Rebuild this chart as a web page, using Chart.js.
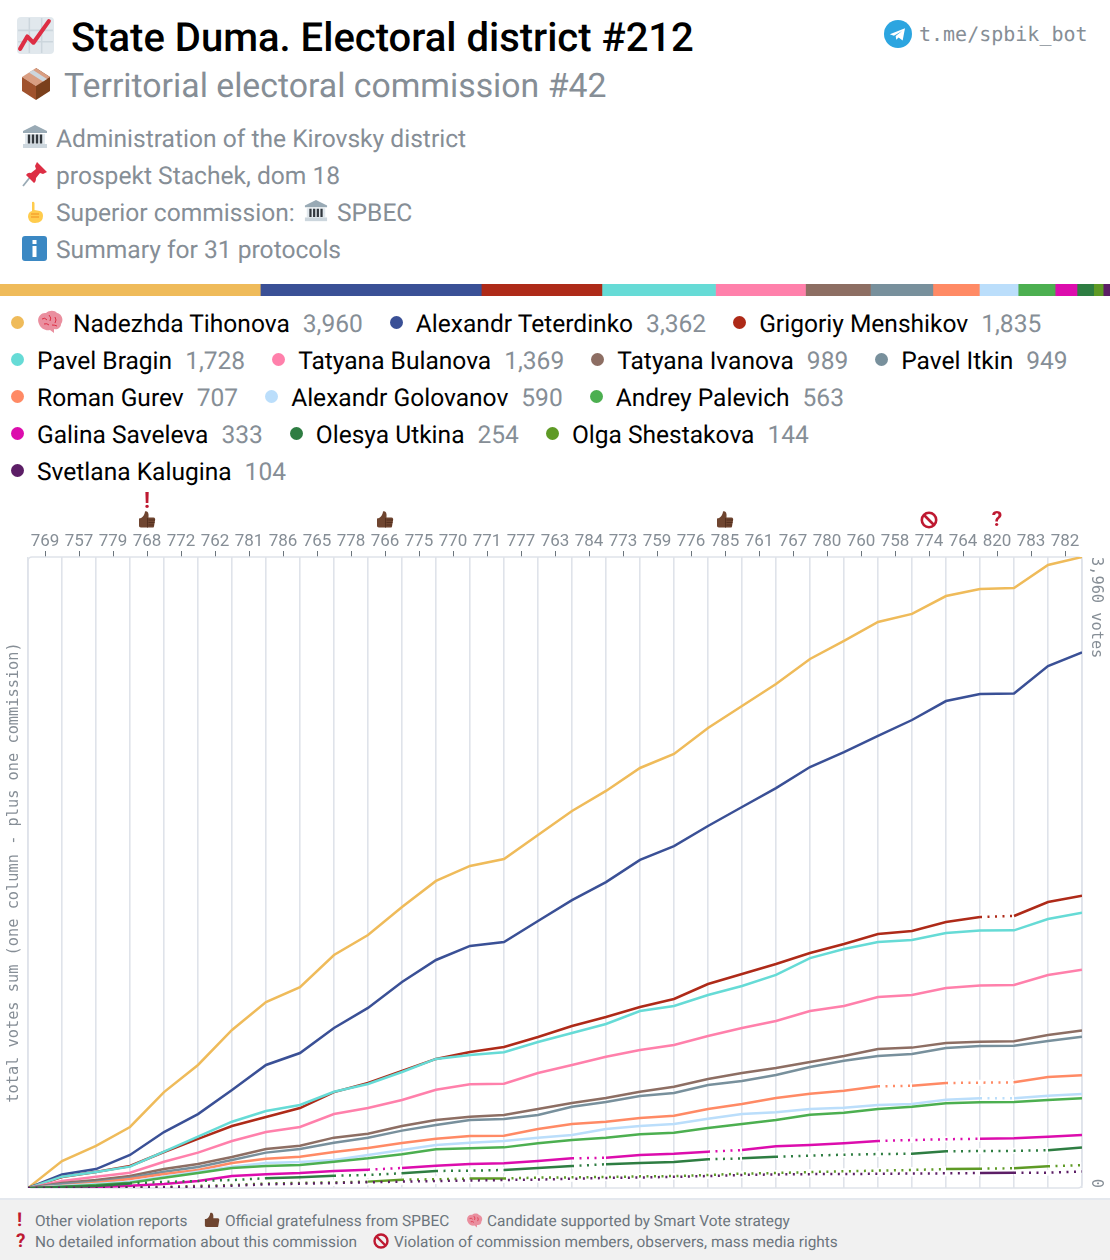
<!DOCTYPE html>
<html><head><meta charset="utf-8">
<script src="https://cdn.jsdelivr.net/npm/chart.js@4"></script>
<style>
html,body{margin:0;padding:0;background:#fff}
body{width:1110px;height:1260px;position:relative;overflow:hidden;font-family:Roboto,sans-serif;color:#000;text-rendering:geometricPrecision}
.abs{position:absolute;white-space:nowrap}
.ic{position:absolute;display:block}
#title{left:71px;top:15px;font-size:40px;line-height:46px;font-weight:500}
#sub{left:64px;top:67px;font-size:33.8px;line-height:40px;color:#868e96}
.info{left:56px;font-size:24.6px;line-height:30px;color:#868e96}
#tg{left:919px;top:22px;font-family:"DejaVu Sans Mono",monospace;font-size:20px;line-height:24px;color:#868e96}
#legend{position:absolute;left:11px;top:304.5px;width:1087px;display:flex;flex-wrap:wrap;font-size:24.55px;line-height:37px}
.li{display:flex;align-items:center;margin-right:27px;white-space:nowrap}
.dot{width:13px;height:13px;border-radius:50%;margin-right:13px;position:relative;top:-1px;flex:none}
.val{color:#868e96;margin-left:13px}
#bar{position:absolute;left:0;top:284px}
#plot{position:absolute;left:0;top:490px}
#foot{position:absolute;left:0;top:1198px;width:1110px;height:62px;background:#f1f1f1;border-top:2px solid #e4e8ee;box-sizing:border-box}
.ft{position:absolute;font-size:15.4px;line-height:20px;color:#6c757d;white-space:nowrap}
.red{color:#be1931;font-weight:700;font-size:19px}
</style></head><body>

<svg class="ic" style="left:17px;top:17px" width="37" height="37" viewBox="0 0 36 36"><rect width="36" height="36" rx="4" fill="#e1e8ed"/><path d="M1 13h34M1 24h34M12 1v34M24 1v34" stroke="#ccd6dd" stroke-width="1.5" fill="none"/><path d="M3 31 L10 19 L16 25 L31 4" stroke="#dd2e44" stroke-width="4" fill="none" stroke-linecap="round" stroke-linejoin="round"/></svg>
<div class="abs" id="title">State Duma. Electoral district #212</div>

<svg class="ic" style="left:21px;top:67px" width="30" height="34" viewBox="0 0 30 34"><path d="M15 1 L29 10 V24 L15 33 Z" fill="#7a3f1c"/><path d="M15 1 L29 10 L15 19 L1 10 Z" fill="#d99e82"/><path d="M8 5.5 L22 14.5 L26 12 L12 3 Z" fill="#ccd6dd"/><path d="M15 19 V33 L1 24 V10 Z" fill="#a0522d"/></svg>
<div class="abs" id="sub">Territorial electoral commission #42</div>

<svg class="ic" style="left:22px;top:125px" width="26" height="24" viewBox="0 0 26 24"><path d="M13 0 L25 6 V8 H1 V6 Z" fill="#99aab5"/><rect x="3" y="9" width="20" height="10" fill="#e1e8ed"/><path d="M7 9.5v9M11 9.5v9M15 9.5v9M19 9.5v9" stroke="#31373d" stroke-width="2.4"/><rect y="19" x="1" width="24" height="4" fill="#ccd6dd"/></svg>
<div class="abs info" style="top:125px">Administration of the Kirovsky district</div>

<svg class="ic" style="left:22px;top:161px" width="26" height="26" viewBox="0 0 26 26"><path d="M1 25 L9 15" stroke="#99aab5" stroke-width="1.8"/><path d="M15 1 L25 11 L21 13 L18 12 L14 17 Q14 21 12 22 L4 14 Q6 11 9 12 L14 8 L13 5 Z" fill="#dd2e44"/></svg>
<div class="abs info" style="top:162px">prospekt Stachek, dom 18</div>

<svg class="ic" style="left:24px;top:201px" width="22" height="23" viewBox="0 0 22 23"><path d="M8 1 Q10 0 10.500 2 L10.500 9 L16 10 Q19 11 19 15 Q19 22 11 22 Q5 22 4 16 Q4 11 8 10 Z" fill="#ffcc4d"/><path d="M7 13h8M7 16h8" stroke="#f19020" stroke-width="1"/></svg>
<div class="abs info" style="top:199px">Superior commission: <span style="display:inline-block;width:30px"></span> SPBEC</div>
<svg class="ic" style="left:304px;top:199px" width="24" height="24" viewBox="0 0 26 24"><path d="M13 0 L25 6 V8 H1 V6 Z" fill="#99aab5"/><rect x="3" y="9" width="20" height="10" fill="#e1e8ed"/><path d="M7 9.5v9M11 9.5v9M15 9.5v9M19 9.5v9" stroke="#31373d" stroke-width="2.4"/><rect y="19" x="1" width="24" height="4" fill="#ccd6dd"/></svg>

<svg class="ic" style="left:22px;top:236px" width="25" height="25" viewBox="0 0 25 25"><rect width="25" height="25" rx="3" fill="#3b88c3"/><rect x="10.500" y="10" width="4" height="11" fill="#fff"/><rect x="10.500" y="4" width="4" height="4" fill="#fff"/></svg>
<div class="abs info" style="top:236px">Summary for 31 protocols</div>

<svg class="ic" style="left:884px;top:20px" width="28" height="28" viewBox="0 0 24 24"><circle cx="12" cy="12" r="12" fill="#2ca5e0"/><path d="M5 12.200 L18 7 L16 17.500 L12.500 15 L10.500 17 L10 13.800 L15.500 9.500 L8.500 13.500 Z" fill="#fff"/></svg>
<div class="abs" id="tg">t.me/spbik_bot</div>

<canvas id="bar" width="1110" height="12"></canvas>
<div id="legend"></div>
<canvas id="plot" width="1110" height="708"></canvas>

<div id="foot"></div>
<div class="ft red" style="left:17px;top:1210px">!</div>
<div class="ft" style="left:35px;top:1211px">Other violation reports</div>
<svg class="ic" style="left:204px;top:1212px" width="16" height="16" viewBox="0 0 36 36"><path id="thumbPath" d="M2 16 C8 16 13 10 14 2 C19 0 22 4 21 14 H31 C34 14 35 17 34 20 L32 32 C32 34 30 34 28 34 H6 C3 34 2 32 2 30 Z" fill="#6f4530"/></svg>
<div class="ft" style="left:225px;top:1211px">Official gratefulness from SPBEC</div>
<svg class="ic" style="left:466px;top:1213px" width="17" height="15" viewBox="0 0 26 24"><path d="M2 14 C-1 8 4 2 9 3 C12 0 18 0 20 3 C25 4 27 10 24 14 C24 18 20 20 17 19 L17 23 L13 20 C9 21 4 19 2 14 Z" fill="#ea8f9f"/><path d="M5 9 Q8 7 10 10 M12 5 Q15 8 13 11 M18 7 Q20 10 18 13 M7 14 Q10 13 12 15" stroke="#dd2e44" stroke-width="1.200" fill="none"/></svg>
<div class="ft" style="left:487px;top:1211px">Candidate supported by Smart Vote strategy</div>
<div class="ft red" style="left:16px;top:1231px">?</div>
<div class="ft" style="left:35px;top:1232px">No detailed information about this commission</div>
<svg class="ic" style="left:373px;top:1233px" width="16" height="16" viewBox="0 0 16 16"><circle cx="8" cy="8" r="6.500" fill="none" stroke="#be1931" stroke-width="2.400"/><path d="M3.500 3.500 L12.500 12.500" stroke="#be1931" stroke-width="2.400"/></svg>
<div class="ft" style="left:394px;top:1232px">Violation of commission members, observers, mass media rights</div>

<script>
// ---- Data ----
const commissions = ['769','757','779','768','772','762','781','786','765','778','766','775','770','771','777','763','784','773','759','776','785','761','767','780','760','758','774','764','820','783','782'];
const candidates = ['Nadezhda Tihonova','Alexandr Teterdinko','Grigoriy Menshikov','Pavel Bragin','Tatyana Bulanova','Tatyana Ivanova','Pavel Itkin','Roman Gurev','Alexandr Golovanov','Andrey Palevich','Galina Saveleva','Olesya Utkina','Olga Shestakova','Svetlana Kalugina'];
const totals = [3960,3362,1835,1728,1369,989,949,707,590,563,333,254,144,104];
const colors = ['#efbb5a','#3a5096','#ae2a18','#66dbd6','#ff80ab','#8d6e63','#78909c','#ff8a65','#bbdefb','#4caf50','#dc0dad','#2e7d42','#5e9a25','#5c1e66'];

const tihonova = [0,169,264,383,602,772,992,1167,1261,1462,1588,1764,1927,2021,2065,2215,2366,2492,2636,2724,2887,3025,3163,3320,3433,3552,3603,3715,3759,3766,3910,3960];
const teterdinko = [0,85,119,207,351,464,615,772,847,1004,1130,1293,1431,1519,1544,1676,1807,1920,2059,2146,2272,2391,2510,2642,2736,2837,2937,3056,3100,3103,3276,3362];
const menshikov = [0,69,100,138,226,308,389,446,502,602,659,734,810,854,885,948,1017,1073,1136,1186,1280,1343,1406,1475,1531,1594,1613,1669,1701,1707,1795,1835];
const bragin = [0,71,100,134,228,322,416,483,521,604,653,728,810,835,852,916,973,1029,1111,1142,1211,1268,1337,1443,1500,1544,1556,1600,1616,1617,1688,1728];
const bulanova = [0,44,71,96,165,222,295,351,383,464,502,552,617,651,655,722,772,824,866,897,954,1004,1048,1111,1142,1199,1211,1255,1271,1274,1337,1369];
const ivanova = [0,31,50,75,119,151,195,245,265,316,341,389,427,447,458,496,533,565,604,636,684,722,753,791,828,872,881,910,918,921,960,989];
const itkin = [0,25,40,65,102,132,176,222,245,284,316,360,395,427,433,458,510,540,577,596,646,672,709,759,799,828,841,879,891,893,923,949];
const gurev = [0,14,33,56,88,113,157,184,196,226,251,282,309,326,328,370,402,416,439,454,496,527,565,592,611,638,642,659,661,663,697,707];
const golovanov = [0,13,25,40,71,102,134,157,163,176,207,238,270,284,295,316,333,370,389,402,435,464,475,496,504,521,527,554,563,564,579,590];
const palevich = [0,8,19,33,65,94,126,138,144,165,186,212,243,249,255,281,301,316,337,347,377,402,427,460,473,496,510,532,538,539,552,563];
const saveleva = [0,3,6,14,25,44,75,86,94,107,115,126,140,151,155,169,186,190,207,215,228,238,262,270,281,295,301,306,309,312,322,333];
const utkina = [0,6,13,29,38,44,50,61,67,77,82,92,107,109,113,126,138,149,157,163,180,186,196,203,209,213,215,230,232,233,237,254];
const shestakova = [0,1,3,5,6,13,19,28,32,35,40,52,55,59,60,65,67,69,73,75,82,90,94,100,105,109,113,119,121,124,136,144];
const kalugina = [0,1,2,3,4,8,14,23,27,31,36,40,44,47,50,53,58,63,66,70,75,82,85,87,88,89,91,92,94,95,96,104];

// start index of every dotted stretch of a line
const dottedMenshikov = [28];
const dottedGurev = [25,27,28];
const dottedGolovanov = [28];
const dottedSaveleva = [10,16,20,25,26,27];
const dottedUtkina = [3,4,5,6,9,10,12,13,16,20,22,23,24,25,27,28,29];
const dottedShestakova = [0,1,2,3,4,5,6,7,8,9,11,12,14,15,16,17,18,19,20,21,22,23,24,25,26,28,30];
const dottedKalugina = [0,1,2,3,4,5,6,7,8,9,10,11,12,13,14,15,16,17,18,19,20,21,22,23,24,25,26,27,29,30];

const seriesValues = [tihonova,teterdinko,menshikov,bragin,bulanova,ivanova,itkin,gurev,golovanov,palevich,saveleva,utkina,shestakova,kalugina];
const seriesDotted = [[],[],dottedMenshikov,[],[],[],[],dottedGurev,dottedGolovanov,[],dottedSaveleva,dottedUtkina,dottedShestakova,dottedKalugina];

const thumbMarks = ['768','766','785'];
const alertMarks = ['768'];
const banMarks = ['774'];
const unknownMarks = ['820'];

const axisTitle = 'total votes sum (one column - plus one commission)';
const topLabel = '3,960 votes';
const zeroLabel = '0';
const gray = '#868e96';
const gridColor = '#dfe3ea';

// ---- Legend ----
const legend = document.getElementById('legend');
const fmt = n => n.toLocaleString('en-US');
candidates.forEach((name,i)=>{
  const it = document.createElement('div'); it.className='li';
  const dot = document.createElement('span'); dot.className='dot'; dot.style.background=colors[i]; it.appendChild(dot);
  if(i===0){
    const b=document.createElementNS('http://www.w3.org/2000/svg','svg');
    b.setAttribute('width','26');b.setAttribute('height','24');b.setAttribute('viewBox','0 0 26 24');
    b.style.marginRight='10px';b.style.marginTop='-3px';
    b.innerHTML='<path d="M2 14 C-1 8 4 2 9 3 C12 0 18 0 20 3 C25 4 27 10 24 14 C24 18 20 20 17 19 L17 23 L13 20 C9 21 4 19 2 14 Z" fill="#ea8f9f"/><path d="M5 9 Q8 7 10 10 M12 5 Q15 8 13 11 M18 7 Q20 10 18 13 M7 14 Q10 13 12 15 M15 15 Q18 15 20 16" stroke="#dd2e44" stroke-width="1" fill="none"/>';
    it.appendChild(b);
  }
  const n=document.createElement('span'); n.textContent=name; it.appendChild(n);
  const v=document.createElement('span'); v.className='val'; v.textContent=fmt(totals[i]); it.appendChild(v);
  legend.appendChild(it);
});

// ---- Proportional strip ----
new Chart(document.getElementById('bar'),{
  type:'bar',
  data:{labels:[''],datasets:totals.map((t,i)=>({data:[t],backgroundColor:colors[i],barPercentage:1,categoryPercentage:1,borderWidth:0}))},
  options:{indexAxis:'y',responsive:false,animation:false,devicePixelRatio:1,
    layout:{padding:0},
    plugins:{legend:{display:false},tooltip:{enabled:false}},
    scales:{x:{display:false,stacked:true,min:0,max:totals.reduce((a,b)=>a+b,0)},y:{display:false,stacked:true}}}
});

// ---- Main chart ----
const thumb = new Path2D(document.getElementById('thumbPath').getAttribute('d'));

const underlay = {
  id:'underlay',
  beforeDatasetsDraw(c){
    const g=c.ctx,{x,y}=c.scales;
    g.save();g.strokeStyle='#fff';g.lineWidth=6;g.lineCap='butt';
    seriesDotted.forEach((list,s)=>list.forEach(i=>{
      if(s>=12&&i<3)return;
      g.beginPath();
      g.moveTo(x.getPixelForValue(i),y.getPixelForValue(seriesValues[s][i]));
      g.lineTo(x.getPixelForValue(i+1),y.getPixelForValue(seriesValues[s][i+1]));
      g.stroke();
    }));
    g.restore();
    const a=c.chartArea;
    g.save();g.strokeStyle=gridColor;g.lineWidth=1.6;g.beginPath();
    g.roundRect(a.left,a.top,a.right-a.left,a.bottom-a.top,4);g.stroke();g.restore();
  },
  afterDraw(c){
    const g=c.ctx,t=c.scales.xTop,y=c.scales.y,a=c.chartArea;
    const labelY=30;
    commissions.forEach((code,i)=>{
      const px=t.getPixelForTick(i);
      if(thumbMarks.includes(code)){
        g.save();g.translate(px-9,labelY-9.5);g.scale(0.5,0.5);g.fillStyle='#6f4530';g.fill(thumb);
        g.strokeStyle='#54301f';g.lineWidth=2;g.beginPath();
        g.moveTo(21,19);g.lineTo(34,19);g.moveTo(21,24);g.lineTo(33,24);g.moveTo(21,29);g.lineTo(32,29);g.moveTo(19,15);g.lineTo(19,34);g.stroke();
        g.restore();
      }
      if(alertMarks.includes(code)){
        g.save();g.fillStyle='#be1931';g.font='700 22px Roboto';g.textAlign='center';g.textBaseline='middle';g.fillText('!',px,labelY-18);g.restore();
      }
      if(unknownMarks.includes(code)){
        g.save();g.fillStyle='#be1931';g.font='700 21px Roboto';g.textAlign='center';g.textBaseline='middle';g.fillText('?',px,labelY+1);g.restore();
      }
      if(banMarks.includes(code)){
        g.save();g.strokeStyle='#be1931';g.lineWidth=2.6;g.beginPath();g.arc(px,labelY,7.2,0,Math.PI*2);g.stroke();
        g.beginPath();g.moveTo(px-5,labelY-5);g.lineTo(px+5,labelY+5);g.stroke();g.restore();
      }
    });
    g.save();g.fillStyle=gray;g.font='15.3px "DejaVu Sans Mono"';g.textBaseline='middle';
    g.translate(a.right+14,y.getPixelForValue(3960));g.rotate(Math.PI/2);g.textAlign='left';g.fillText(topLabel,0,0);g.restore();
    g.save();g.fillStyle=gray;g.font='15.3px "DejaVu Sans Mono"';g.textBaseline='middle';
    g.translate(a.right+14,y.getPixelForValue(0));g.rotate(Math.PI/2);g.textAlign='right';g.fillText(zeroLabel,0,0);g.restore();
  }
};

new Chart(document.getElementById('plot'),{
  type:'line',
  data:{datasets:seriesValues.map((vals,s)=>({
    label:candidates[s],
    xAxisID:'x',yAxisID:'y',
    data:vals.map((v,i)=>({x:i,y:v})),
    borderColor:colors[s],borderWidth:2.5,pointRadius:0,tension:0,fill:false,order:seriesValues.length-s,
    borderCapStyle:'butt',
    segment:{borderDash:ctx=>seriesDotted[s].includes(ctx.p0DataIndex)?[2,5.5]:undefined}
  }))},
  plugins:[underlay],
  options:{
    responsive:false,animation:false,devicePixelRatio:1,
    layout:{padding:{left:0,right:28,top:0,bottom:0}},
    plugins:{legend:{display:false},tooltip:{enabled:false}},
    scales:{
      x:{type:'linear',position:'bottom',min:0,max:31,
        ticks:{display:false,stepSize:1,autoSkip:false},
        grid:{color:gridColor,lineWidth:1.6,drawTicks:false},border:{display:false},
        afterFit(s){s.height=10;}},
      xTop:{type:'category',position:'top',labels:commissions,offset:true,
        ticks:{color:gray,font:{family:'Roboto',size:17},autoSkip:false,maxRotation:0,minRotation:0,padding:-1},
        grid:{drawOnChartArea:false,tickLength:6,tickColor:'#6c757d',tickWidth:1},border:{display:false},
        afterFit(s){s.height=67;}},
      y:{type:'linear',position:'left',min:0,max:3960,
        ticks:{display:false},grid:{display:false},border:{display:false},
        title:{display:true,text:axisTitle,color:gray,font:{family:'"DejaVu Sans Mono"',size:15.3},padding:{top:5,bottom:0}},
        afterFit(s){s.width=28;}}
    }
  }
});
</script>
</body></html>
